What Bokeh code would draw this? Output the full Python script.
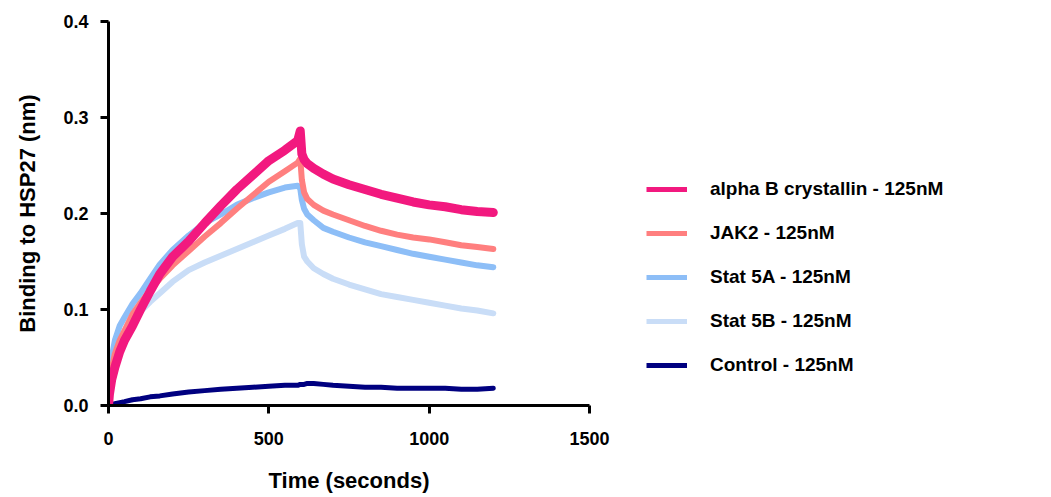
from bokeh.plotting import figure
from bokeh.models import Range1d, FixedTicker, PrintfTickFormatter, Legend, LegendItem
from bokeh.embed import file_html
from bokeh.resources import INLINE

time_s = [0, 3, 10, 20, 35, 50, 75, 100, 130, 160, 200, 250, 300, 350, 400, 450, 500,
          550, 590, 598, 603, 610, 620, 640, 670, 700, 750, 800, 850, 900, 950, 1000,
          1050, 1100, 1150, 1200]

alpha_b = [0, 0.012, 0.027, 0.04, 0.056, 0.068, 0.083, 0.1, 0.119, 0.137, 0.155, 0.171,
           0.19, 0.208, 0.225, 0.24, 0.255, 0.266, 0.276, 0.286, 0.262, 0.256, 0.252,
           0.247, 0.241, 0.236, 0.23, 0.225, 0.22, 0.216, 0.212, 0.209, 0.207, 0.204,
           0.202, 0.201]
jak2 = [0, 0.02, 0.038, 0.054, 0.068, 0.078, 0.095, 0.107, 0.12, 0.132, 0.146, 0.161,
        0.176, 0.19, 0.205, 0.219, 0.233, 0.244, 0.253, 0.257, 0.235, 0.222, 0.215,
        0.209, 0.203, 0.199, 0.193, 0.187, 0.182, 0.178, 0.175, 0.173, 0.17, 0.167,
        0.165, 0.163]
stat5a = [0, 0.03, 0.05, 0.068, 0.083, 0.092, 0.106, 0.117, 0.132, 0.147, 0.162, 0.177,
          0.19, 0.199, 0.209, 0.216, 0.222, 0.227, 0.229, 0.226, 0.214, 0.205, 0.199,
          0.193, 0.185, 0.181, 0.175, 0.17, 0.166, 0.162, 0.158, 0.155, 0.152, 0.149,
          0.146, 0.144]
stat5b = [0, 0.02, 0.035, 0.05, 0.064, 0.073, 0.087, 0.098, 0.108, 0.117, 0.129, 0.141,
          0.149, 0.156, 0.163, 0.17, 0.177, 0.184, 0.19, 0.19, 0.168, 0.155, 0.15,
          0.143, 0.137, 0.132, 0.126, 0.121, 0.116, 0.113, 0.11, 0.107, 0.104, 0.101,
          0.099, 0.096]
control = [0, 0.0005, 0.001, 0.002, 0.003, 0.004, 0.006, 0.007, 0.009, 0.01, 0.012, 0.014,
           0.0155, 0.017, 0.018, 0.019, 0.02, 0.021, 0.021, 0.022, 0.022, 0.022, 0.023,
           0.023, 0.022, 0.021, 0.02, 0.019, 0.019, 0.018, 0.018, 0.018, 0.018, 0.017,
           0.017, 0.018]

labels = ["alpha B crystallin - 125nM", "JAK2 - 125nM", "Stat 5A - 125nM",
          "Stat 5B - 125nM", "Control - 125nM"]
colors = ["#F2197F", "#FF7F7F", "#8DBEF7", "#C9DDF7", "#000080"]
widths = [9, 6, 6, 6, 5]
series = [alpha_b, jak2, stat5a, stat5b, control]

x_ticks = [0, 500, 1000, 1500]
y_ticks = [0.0, 0.1, 0.2, 0.3, 0.4]

FONT = "Liberation Sans"

p = figure(frame_width=481, frame_height=384, x_range=Range1d(0, 1500),
           y_range=Range1d(0, 0.4),
           output_backend="svg", toolbar_location=None,
           min_border_left=108, min_border_right=0, min_border_top=21,
           min_border_bottom=84)
p.outline_line_color = None
p.grid.visible = False
p.background_fill_color = "white"

# draw order: control, 5B, 5A, JAK2, alpha B on top
for i in [4, 3, 2, 1, 0]:
    p.line(time_s, series[i], line_color=colors[i], line_width=widths[i],
           line_join="round", line_cap="round")

nan_pt = [float("nan")]
legend_items = []
for i in range(5):
    r = p.line(x=nan_pt, y=nan_pt, line_color=colors[i], line_width=5)
    legend_items.append(LegendItem(label=labels[i], renderers=[r]))

for ax in (p.xaxis[0], p.yaxis[0]):
    ax.axis_line_width = 3
    ax.axis_line_color = "black"
    ax.major_tick_line_width = 3
    ax.major_tick_line_color = "black"
    ax.major_tick_out = 8
    ax.major_tick_in = 0
    ax.minor_tick_line_color = None
    ax.major_label_text_font = FONT
    ax.major_label_text_font_style = "bold"
    ax.major_label_text_font_size = "18px"
    ax.major_label_text_color = "black"
    ax.axis_label_text_font = FONT
    ax.axis_label_text_font_style = "bold"
    ax.axis_label_text_font_size = "22px"
    ax.axis_label_text_color = "black"

p.xaxis.ticker = FixedTicker(ticks=x_ticks)
p.yaxis.ticker = FixedTicker(ticks=y_ticks)
p.yaxis.formatter = PrintfTickFormatter(format="%.1f")
p.xaxis.axis_label = "Time (seconds)"
p.yaxis.axis_label = "Binding to HSP27 (nm)"
p.xaxis.major_label_standoff = 18
p.yaxis.major_label_standoff = 12
p.xaxis.axis_label_standoff = 20
p.yaxis.axis_label_standoff = 20

legend = Legend(items=legend_items, location=(57, 20), glyph_width=41, glyph_height=40,
                label_height=40, spacing=4, padding=10, label_standoff=23,
                border_line_color=None, background_fill_alpha=0,
                label_text_font=FONT, label_text_font_style="bold",
                label_text_font_size="19px", label_text_color="black")
p.add_layout(legend, "right")

open("out.html", "w").write(file_html(p, INLINE))
